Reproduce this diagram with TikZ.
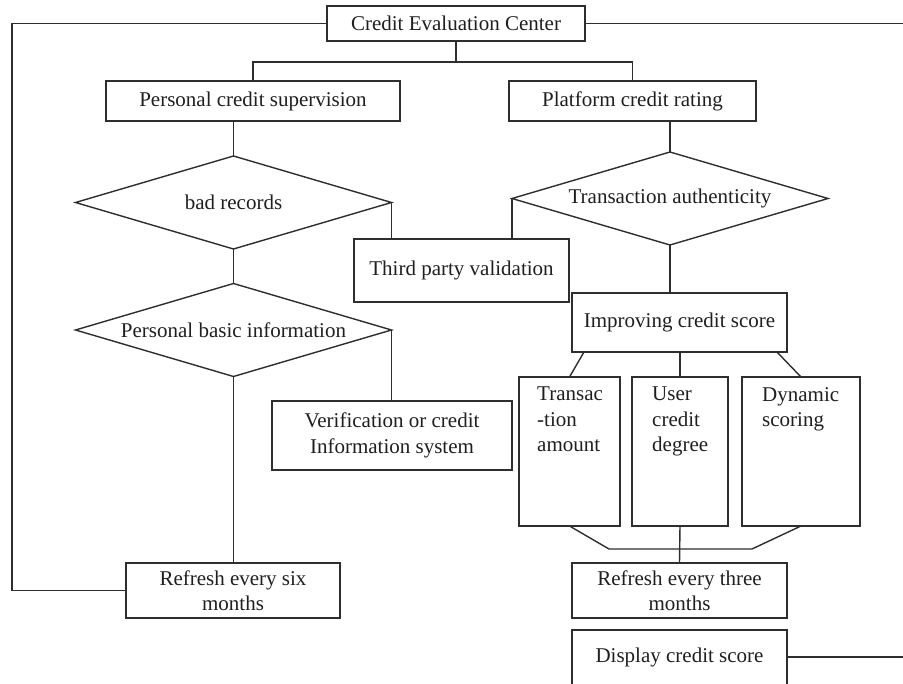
\documentclass[tikz,border=0pt]{standalone}
\usepackage{fontspec}
\setmainfont{Liberation Serif}
\usetikzlibrary{shapes.geometric}
\begin{document}
\begin{tikzpicture}[x=1pt,y=-1pt,
  every node/.style={font=\fontsize{21}{25.5}\selectfont, text=black!88},
  box/.style={draw=black!82, line width=1.4pt, rectangle, inner sep=0pt, outer sep=0pt, align=center},
  dia/.style={draw=black!82, line width=1.4pt, diamond, aspect=3.4, inner sep=0pt, outer sep=0pt, minimum width=316pt, minimum height=93pt},
  conn/.style={draw=black!82, line width=1.4pt},
  lbl/.style={inner sep=0pt, align=left, anchor=north west}
]
\useasboundingbox (0,0) rectangle (903,684);
\clip (0,0) rectangle (903,684);

% boxes
\node[box, minimum width=258pt, minimum height=35pt] (cec) at (456,23.5) {Credit Evaluation Center};
\node[box, minimum width=294pt, minimum height=40pt] (pcs) at (253,101) {Personal credit supervision};
\node[box, minimum width=247pt, minimum height=40pt] (plat) at (632.5,101) {Platform credit rating};
\node[dia] (bad) at (233.5,202.5) {bad records};
\node[dia] (ta) at (670,198.5) {Transaction authenticity};
\node[dia] (pbi) at (233.5,330) {Personal basic information};
\node[box, minimum width=215pt, minimum height=63pt] (third) at (461.5,270.5) {Third party validation};
\node[box, minimum width=215pt, minimum height=59pt] (impr) at (679.5,322.5) {Improving credit score};
\node[box, minimum width=240pt, minimum height=69pt] (verif) at (392,435.5) {Verification or credit\\Information system};
\node[box, minimum width=101pt, minimum height=149pt] (transac) at (569.5,451.5) {};
\node[box, minimum width=96pt, minimum height=149pt] (user) at (680,451.5) {};
\node[box, minimum width=118pt, minimum height=149pt] (dyn) at (801,451.5) {};
\node[lbl] (transactxt) at (537,387) {Transac\\-tion\\amount};
\node[lbl] (usertxt) at (652,387) {User\\credit\\degree};
\node[lbl] (dyntxt) at (762,387) {Dynamic\\scoring};
\node[box, minimum width=214pt, minimum height=55pt] (r6) at (233,590.5) {Refresh every six\\months};
\node[box, minimum width=215pt, minimum height=55pt] (r3) at (679.5,590.5) {Refresh every three\\months};
\node[box, minimum width=215pt, minimum height=60pt] (disp) at (679.5,660) {};
\node[inner sep=0pt] (disptxt) at (679.5,657) {Display credit score};

\coordinate (rtop) at (903,23.5);
\coordinate (rbot) at (903,657);
\coordinate (bl) at (609,549);
\coordinate (br) at (752,549);

% connectors
\draw[conn] (cec.west) -- ++(-315,0) |- (r6.west);
\draw[conn] (cec.east) -- (rtop);
\draw[conn] (cec.south) -- ++(0,21);
\draw[conn] (pcs.north) -- ++(0,-19) -| (plat.north);
\draw[conn] (pcs.south -| bad.north) -- (bad.north);
\draw[conn] (plat.south -| ta.north) -- (ta.north);
\draw[conn] (bad.east) -- (bad.east |- third.north);
\draw[conn] (ta.west) -- (ta.west |- third.north);
\draw[conn] (bad.south) -- (pbi.north);
\draw[conn] (pbi.east) -- (pbi.east |- verif.north);
\draw[conn] (pbi.south) -- (pbi.south |- r6.north);
\draw[conn] (ta.south) -- (ta.south |- impr.north);
\draw[conn] ([xshift=12pt]impr.south west) -- (transac.north);
\draw[conn] (impr.south -| user.north) -- (user.north);
\draw[conn] ([xshift=-10pt]impr.south east) -- (dyn.north);
\draw[conn] (transac.south) -- (bl) -- (br) -- (dyn.south);
\draw[conn] (user.south) -- (r3.north);
\draw[conn] (disp.east |- disptxt) -- (rbot);
\end{tikzpicture}
\end{document}
